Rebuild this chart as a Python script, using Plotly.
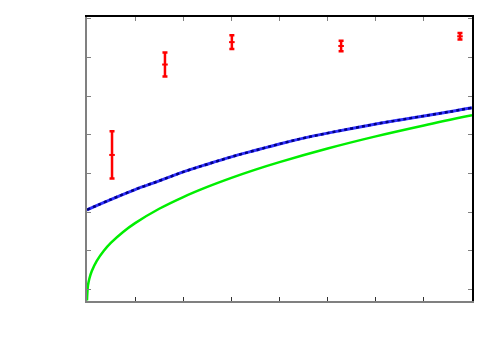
import plotly.graph_objects as go

# puntos medidos con barras de error
meas_x = [0.52, 1.62, 3.01, 5.28, 7.75]
meas_y = [3.48, 5.82, 6.40, 6.30, 6.55]
meas_err = [0.61, 0.31, 0.18, 0.135, 0.085]

# curva azul (punteada)
blue_x = [0.0, 0.5, 1.0, 1.5, 2.0, 2.5, 3.0, 3.5, 4.0, 4.5, 5.0, 5.5, 6.0, 6.5, 7.0, 7.5, 8.0]
blue_y = [2.06, 2.33, 2.585, 2.81, 3.04, 3.24, 3.43, 3.60, 3.765, 3.915, 4.045, 4.165, 4.28, 4.385, 4.49, 4.59, 4.70]

# curva verde
green_x = [0.0, 0.02, 0.05, 0.1, 0.2, 0.35, 0.5, 0.75, 1.0, 1.5, 2.0, 2.5, 3.0, 3.5, 4.0, 5.0, 6.0, 7.0, 8.0]
green_y = [-0.285, 0.101, 0.283, 0.475, 0.733, 1.001, 1.209, 1.487, 1.715, 2.087, 2.391, 2.653, 2.887,
           3.101, 3.295, 3.647, 3.961, 4.243, 4.505]

x_ticks = [0, 1, 2, 3, 4, 5, 6, 7, 8]
y_ticks = [0, 1, 2, 3, 4, 5, 6, 7]
x_range = [0, 8]
y_range = [-0.3, 7.05]

fig = go.Figure()
fig.add_trace(go.Scatter(
    x=green_x, y=green_y, mode="lines", line=dict(color="#00ee00", width=2.5, shape="spline"),
    showlegend=False,
))
fig.add_trace(go.Scatter(
    x=blue_x, y=blue_y, mode="lines", line=dict(color="#3030ff", width=3, shape="spline"),
    showlegend=False,
))
fig.add_trace(go.Scatter(
    x=blue_x, y=blue_y, mode="lines", line=dict(color="#000080", width=2.5, dash="dot", shape="spline"),
    showlegend=False,
))
fig.add_trace(go.Scatter(
    x=meas_x, y=meas_y, mode="markers",
    marker=dict(symbol="line-ew", size=4, line=dict(color="red", width=2)),
    error_y=dict(type="data", array=meas_err, color="red", thickness=2.5, width=2.5),
    showlegend=False,
))
# ejes superior / derecho (marco negro)
fig.add_trace(go.Scatter(x=[], y=[], xaxis="x2", yaxis="y2", showlegend=False))

# la página añade ~8px de margen al body: se compensa en los márgenes
fig.update_layout(
    width=500, height=350,
    margin=dict(l=79, r=36, t=9, b=57),
    paper_bgcolor="white", plot_bgcolor="white",
    xaxis=dict(range=x_range, tickvals=x_ticks, showticklabels=False, showgrid=False, zeroline=False,
               showline=True, linecolor="#808080", linewidth=2, ticks="inside", ticklen=4,
               tickcolor="#333333", tickwidth=1),
    yaxis=dict(range=y_range, tickvals=y_ticks, showticklabels=False, showgrid=False, zeroline=False,
               showline=True, linecolor="#808080", linewidth=2, ticks="inside", ticklen=4,
               tickcolor="#808080", tickwidth=1),
    xaxis2=dict(range=x_range, tickvals=x_ticks, showticklabels=False, showgrid=False, zeroline=False,
                overlaying="x", side="top", showline=True, linecolor="black", linewidth=1.5,
                ticks="inside", ticklen=4, tickcolor="#808080", tickwidth=1),
    yaxis2=dict(range=y_range, tickvals=y_ticks, showticklabels=False, showgrid=False, zeroline=False,
                overlaying="y", side="right", showline=True, linecolor="black", linewidth=1.5,
                ticks="inside", ticklen=4, tickcolor="#808080", tickwidth=1),
)

fig.write_html("out.html")
